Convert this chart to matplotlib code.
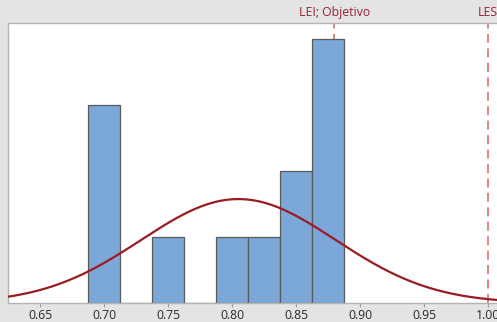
import numpy as np
import matplotlib
matplotlib.use("Agg")
import matplotlib.pyplot as plt

# Data
bin_centers = [0.700, 0.725, 0.750, 0.775, 0.800, 0.825, 0.850, 0.875]
counts      = [3,     0,     1,     0,     1,     1,     2,     4]
bin_width = 0.025
fit_mean = 0.805
fit_sd = 0.076
n_obs = sum(counts)
spec_lines = [0.88, 1.00]
spec_labels = ["LEI; Objetivo", "LES"]
xticks = [0.65, 0.70, 0.75, 0.80, 0.85, 0.90, 0.95, 1.00]
xticklabels = ["0.65", "0.70", "0.75", "0.80", "0.85", "0.90", "0.95", "1.00"]

plt.rcParams['font.family'] = ['Open Sans', 'DejaVu Sans']

fig = plt.figure(figsize=(4.97, 3.22), dpi=100, facecolor='#e4e4e4')
ax = fig.add_axes([8/497, 19/322, 1.0, 280/322])
ax.set_facecolor('white')

# spec lines (behind bars)
for x in spec_lines:
    ax.axvline(x, color='#e07a7a', lw=1.3, ls=(0, (5, 3)), zorder=1)

ax.bar(bin_centers, counts, width=bin_width, color='#7ba7d9',
       edgecolor='#5a5a5a', linewidth=0.9, zorder=2)

xs = np.linspace(0.60, 1.05, 400)
ys = n_obs * bin_width / (fit_sd * np.sqrt(2 * np.pi)) * np.exp(-0.5 * ((xs - fit_mean) / fit_sd) ** 2)
ax.plot(xs, ys, color='#9b1b22', lw=1.6, zorder=3)

ax.set_xlim(0.625, 0.625 + 497 / 1280)
ax.set_ylim(0, 280 / 66)

ax.set_xticks(xticks)
ax.set_xticklabels(xticklabels, fontsize=8.8, color='#2a2a2a')
ax.tick_params(axis='x', length=3, color='#a0a0a0', pad=1.5)
ax.set_yticks([])
for s in ['top', 'left', 'bottom']:
    ax.spines[s].set_color('#b4b4b4')
    ax.spines[s].set_linewidth(1.0)
ax.spines['right'].set_visible(False)

for x, lab in zip(spec_lines, spec_labels):
    ax.annotate(lab, xy=(x, 1.0), xycoords=('data', 'axes fraction'),
                xytext=(0, 3), textcoords='offset points',
                ha='center', va='bottom', fontsize=8.8, color='#952234',
                annotation_clip=False)

fig.savefig('out.png', dpi=100, facecolor=fig.get_facecolor())
